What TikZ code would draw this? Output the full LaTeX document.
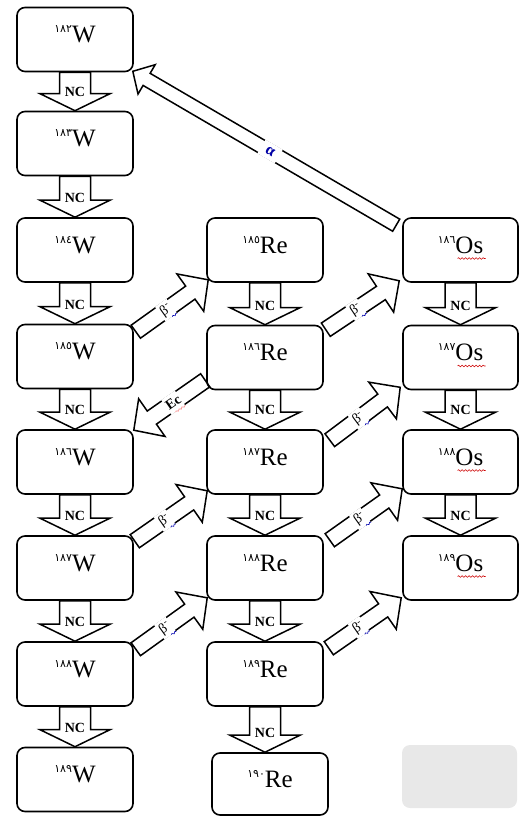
\documentclass[tikz,border=0pt]{standalone}
\usepackage{fontspec}
\setmainfont{Liberation Serif}
\newfontfamily\arfont[Script=Arabic]{DejaVu Sans}
\usetikzlibrary{calc,decorations.pathmorphing}

\newcommand\numsup[1]{\raisebox{10pt}{\fontsize{11pt}{11pt}\selectfont\arfont #1}}
% block arrow: #1 style, #2 from, #3 to, #4 label, #5 label distance back from neck, #6 label style, #7 name
\newcommand\barrow[7]{%
  \coordinate (#7-n) at ($(#3)!\hl!(#2)$);
  \draw[#1] ($(#2)!\sw!90:(#3)$) -- ($(#7-n)!\sw!90:(#3)$) -- ($(#7-n)!\hw!90:(#3)$) -- (#3)
     -- ($(#7-n)!\hw!-90:(#3)$) -- ($(#7-n)!\sw!-90:(#3)$) -- ($(#2)!\sw!-90:(#3)$) -- cycle;
  \path ($(#7-n)!#5!(#2)$) -- (#2) node[pos=0,#6] (#7-l) {#4};
}
\newcommand\bwave[1]{\draw[bluewave] ($(#1-l.south)!0.2!(#1-l.south east)$) -- (#1-l.south east);}

\tikzset{
  box/.style={draw, line width=1.6pt, rounded corners=8pt, minimum width=116pt, minimum height=64pt,
    inner sep=0pt, font=\fontsize{25pt}{26pt}\selectfont, text height=16pt, text depth=10pt},
  blank/.style={fill=black!9, rounded corners=8pt, minimum width=115pt, minimum height=63pt, inner sep=0pt},
  blk/.style={draw, line width=1.5pt, line join=miter},
  nclbl/.style={font=\fontsize{14pt}{14pt}\selectfont\bfseries, inner sep=0pt},
  blbl/.style={sloped, fill=white, inner sep=0.5pt, minimum height=18pt, minimum width=14pt,
    font=\fontsize{14pt}{14pt}\selectfont},
  eclbl/.style={sloped, fill=white, inner sep=0.5pt, minimum height=18pt, minimum width=16pt,
    font=\fontsize{14pt}{14pt}\selectfont\bfseries},
  albl/.style={sloped, fill=white, inner sep=0.5pt, minimum height=16pt, minimum width=20pt,
    font=\fontsize{16pt}{16pt}\selectfont\bfseries, text=blue!65!black},
  redwave/.style={draw=red!80!black, line width=0.6pt, decorate, decoration={snake, amplitude=0.8pt, segment length=3.5pt}},
  bluewave/.style={draw=blue!70!black, line width=0.6pt, decorate, decoration={snake, amplitude=0.8pt, segment length=3.5pt}},
}

\begin{document}
\begin{tikzpicture}[x=1pt,y=-1pt]
\useasboundingbox (0,0) rectangle (520,816);

% W column
\node[box] (W182) at (75,39.5)  {\numsup{١٨٢}W};
\node[box] (W183) at (75,143.5) {\numsup{١٨٣}W};
\node[box] (W184) at (75,250)   {\numsup{١٨٤}W};
\node[box] (W185) at (75,356.5) {\numsup{١٨٥}W};
\node[box] (W186) at (75,462)   {\numsup{١٨٦}W};
\node[box] (W187) at (75,568)   {\numsup{١٨٧}W};
\node[box] (W188) at (75,674)   {\numsup{١٨٨}W};
\node[box] (W189) at (75,779.5) {\numsup{١٨٩}W};
% Re column
\node[box] (Re185) at (265,250)   {\numsup{١٨٥}Re};
\node[box] (Re186) at (265,357.5) {\numsup{١٨٦}Re};
\node[box] (Re187) at (265,462)   {\numsup{١٨٧}Re};
\node[box] (Re188) at (265,568)   {\numsup{١٨٨}Re};
\node[box] (Re189) at (265,674)   {\numsup{١٨٩}Re};
\node[box, minimum height=62pt] (Re190) at (270,784) {\numsup{١٩٠}Re};
% Os column
\node[box, minimum width=115pt] (Os186) at (460.5,250)   {\numsup{١٨٦}Os};
\node[box, minimum width=115pt] (Os187) at (460.5,357.5) {\numsup{١٨٧}Os};
\node[box, minimum width=115pt] (Os188) at (460.5,462)   {\numsup{١٨٨}Os};
\node[box, minimum width=115pt] (Os189) at (460.5,568)   {\numsup{١٨٩}Os};
\foreach \o in {Os186,Os187,Os188,Os189}
  \draw[redwave] ($(\o.center)+(-3,8.5)$) -- ++(28,0);
\node[blank] (blank) at (459.5,776.5) {};

% NC arrows
\def\sw{15.5pt}\def\hw{35pt}\def\hl{17pt}
\barrow{blk}{W182.south}{W183.north}{NC}{2pt}{nclbl}{nca}
\barrow{blk}{W183.south}{W184.north}{NC}{2pt}{nclbl}{ncb}
\barrow{blk}{W184.south}{W185.north}{NC}{2pt}{nclbl}{ncc}
\barrow{blk}{W185.south}{W186.north}{NC}{2pt}{nclbl}{ncd}
\barrow{blk}{W186.south}{W187.north}{NC}{2pt}{nclbl}{nce}
\barrow{blk}{W187.south}{W188.north}{NC}{2pt}{nclbl}{ncf}
\barrow{blk}{W188.south}{W189.north}{NC}{2pt}{nclbl}{ncg}
\barrow{blk}{Re185.south}{Re186.north}{NC}{2pt}{nclbl}{nch}
\barrow{blk}{Re186.south}{Re187.north}{NC}{2pt}{nclbl}{nci}
\barrow{blk}{Re187.south}{Re188.north}{NC}{2pt}{nclbl}{ncj}
\barrow{blk}{Re188.south}{Re189.north}{NC}{2pt}{nclbl}{nck}
\coordinate (re190top) at (Re189.south |- Re190.north);
\barrow{blk}{Re189.south}{re190top}{NC}{2pt}{nclbl}{ncl}
\barrow{blk}{Os186.south}{Os187.north}{NC}{2pt}{nclbl}{ncm}
\barrow{blk}{Os187.south}{Os188.north}{NC}{2pt}{nclbl}{ncn}
\barrow{blk}{Os188.south}{Os189.north}{NC}{2pt}{nclbl}{nco}

% beta arrows
\def\sw{8pt}\def\hw{23pt}\def\hl{22pt}
\coordinate (b1s) at ($(W185.north east)+(2,8)$);  \coordinate (b1e) at ($(Re185.south west)+(2,-3)$);
\coordinate (b2s) at ($(W187.north east)+(1,6)$);  \coordinate (b2e) at ($(Re187.south west)+(1,-4)$);
\coordinate (b3s) at ($(W188.north east)+(2,8)$);  \coordinate (b3e) at ($(Re188.south west)+(1,-3)$);
\coordinate (b4s) at ($(Re186.north east)+(2,5)$); \coordinate (b4e) at ($(Os186.south west)+(-3,-2)$);
\coordinate (b5s) at ($(Re187.north east)+(6,11)$);\coordinate (b5e) at ($(Os187.south west)+(-2,-3)$);
\coordinate (b6s) at ($(Re188.north east)+(6,5)$); \coordinate (b6e) at ($(Os188.south west)+(0,-6)$);
\coordinate (b7s) at ($(Re189.north east)+(5,7)$); \coordinate (b7e) at ($(Os189.south west)+(-1,-3)$);
\foreach \i in {1,...,7}{
  \barrow{blk}{b\i s}{b\i e}{β\textsuperscript{-}}{30pt}{blbl}{bt\i}
  \bwave{bt\i}
}

% electron capture
\coordinate (ecs) at ($(Re186.south west)+(-1,-10)$);
\coordinate (ece) at ($(W186.north east)+(0,1)$);
\barrow{blk}{ecs}{ece}{Ec}{26pt}{eclbl}{ec}
\draw[redwave, draw=red!45] ($(ec-l.south west)!0.3!(ec-l.south east)$) -- (ec-l.south east);

% alpha
\def\sw{7pt}\def\hw{17pt}\def\hl{16pt}
\coordinate (als) at ($(Os186.north west)+(-6,8)$);
\coordinate (ale) at ($(W182.south east)+(-1,-1)$);
\barrow{blk}{als}{ale}{α}{143pt}{albl}{al}
\end{tikzpicture}
\end{document}
